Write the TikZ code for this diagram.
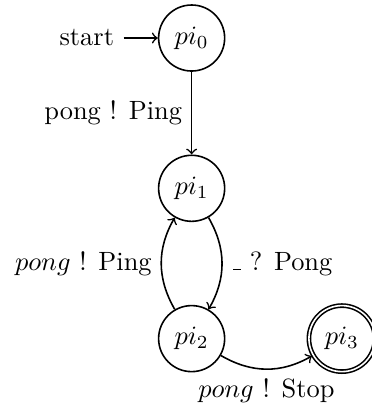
\documentclass[tikz,border=0pt]{standalone}
\usetikzlibrary{automata,positioning,arrows}
\newcommand{\shortus}{\leavevmode\kern.06em\vbox{\hrule width.3em}}
\begin{document}
\begin{tikzpicture}[->,>=to,auto,semithick,every state/.style={draw,circle,minimum size=2.5em,inner sep=0pt}]
\useasboundingbox (-2.55,0.506) rectangle (2.39,-4.91);
\node[state,initial,initial text=start] (p0) at (0,0) {$pi_0$};
\node[state] (p1) at (0,-2) {$pi_1$};
\node[state] (p2) at (0,-4) {$pi_2$};
\node[state,accepting] (p3) at (2,-4) {$pi_3$};
\path (p0) edge node[left] {pong ! Ping} (p1)
      (p1) edge[bend left] node[right] {\shortus{} ? Pong} (p2)
      (p2) edge[bend left] node[left] {$pong$ ! Ping} (p1)
      (p2) edge[bend right] node[below] {$pong$ ! Stop} (p3);
\end{tikzpicture}
\end{document}
